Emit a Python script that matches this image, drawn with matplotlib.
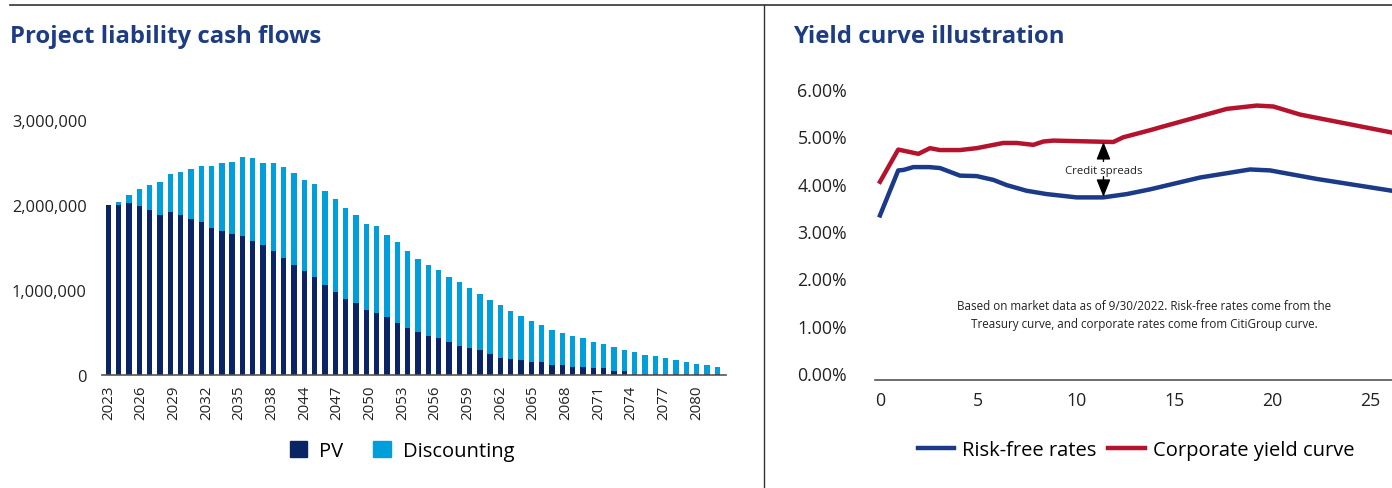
import numpy as np
import matplotlib
matplotlib.use("Agg")
import matplotlib.pyplot as plt
from matplotlib.lines import Line2D
from matplotlib.patches import Patch
from matplotlib.ticker import FuncFormatter

plt.rcParams["font.family"] = ["Open Sans", "DejaVu Sans"]

# ---------- data: left panel (values in millions) ----------
years = list(range(2023, 2083))
pv_m = [2.00, 2.00, 2.02, 1.99, 1.94, 1.88, 1.92, 1.88, 1.84, 1.80,
        1.73, 1.70, 1.66, 1.64, 1.58, 1.53, 1.46, 1.38, 1.29, 1.22,
        1.15, 1.06, 0.98, 0.90, 0.85, 0.76, 0.73, 0.68, 0.61, 0.55,
        0.51, 0.46, 0.43, 0.39, 0.34, 0.32, 0.29, 0.25, 0.20, 0.19,
        0.18, 0.15, 0.15, 0.12, 0.12, 0.10, 0.09, 0.08, 0.08, 0.05,
        0.05, 0.01, 0.01, 0.01, 0.01, 0.01, 0.01, 0.01, 0.01, 0.01]
disc_m = [0.00, 0.04, 0.10, 0.20, 0.30, 0.39, 0.45, 0.51, 0.58, 0.66,
          0.73, 0.80, 0.85, 0.92, 0.97, 0.97, 1.04, 1.07, 1.09, 1.07,
          1.10, 1.10, 1.09, 1.07, 1.03, 1.02, 1.02, 0.97, 0.95, 0.91,
          0.86, 0.83, 0.81, 0.76, 0.75, 0.70, 0.66, 0.63, 0.62, 0.56,
          0.51, 0.48, 0.44, 0.41, 0.37, 0.36, 0.34, 0.31, 0.28, 0.28,
          0.24, 0.26, 0.23, 0.21, 0.19, 0.17, 0.14, 0.12, 0.11, 0.09]
year_labels = ["2023", "2026", "2029", "2032", "2035", "2038", "2044", "2047",
               "2050", "2053", "2056", "2059", "2062", "2065", "2068", "2071",
               "2074", "2077", "2080"]

# ---------- data: right panel (maturity in years, rate in %) ----------
rf_x = [0, 0.93, 1.2, 1.7, 2.5, 3.06, 4.08, 4.93, 5.78, 6.46, 7.48, 8.5,
        10.03, 11.39, 12.59, 13.78, 14.29, 16.33, 18.88, 19.9, 22.28, 26.12]
rf_y = [3.33, 4.28, 4.29, 4.35, 4.35, 4.33, 4.17, 4.16, 4.08, 3.97, 3.85, 3.78,
        3.71, 3.71, 3.78, 3.88, 3.93, 4.13, 4.30, 4.28, 4.10, 3.85]
corp_x = [0, 0.93, 1.96, 2.55, 3.06, 4.08, 4.93, 6.29, 6.97, 7.82, 8.33, 8.84,
          10.88, 11.9, 12.41, 13.78, 14.29, 17.69, 19.22, 20.07, 21.43, 26.12]
corp_y = [4.04, 4.72, 4.63, 4.75, 4.71, 4.71, 4.75, 4.86, 4.86, 4.82, 4.89, 4.91,
          4.89, 4.88, 4.98, 5.13, 5.19, 5.58, 5.65, 5.63, 5.46, 5.08]

NAVY = "#0b2466"
CYAN = "#009fdc"
TITLE = "#1d3c82"
BLUE = "#1b3a87"
RED = "#b5122e"

W, H = 1392, 489
fig = plt.figure(figsize=(W / 100, H / 100), dpi=100)


def frac(x0, y0, x1, y1):
    # pixel box (top-left origin) -> figure fraction rect
    return [x0 / W, 1 - y1 / H, (x1 - x0) / W, (y1 - y0) / H]


# frame lines
fig.add_artist(Line2D([10 / W, 1], [1 - 6 / H] * 2, color="#333333", lw=1.2))
fig.add_artist(Line2D([764 / W] * 2, [0, 1 - 6 / H], color="#333333", lw=1.0))

fig.text(10 / W, 1 - 37 / H, "Project liability cash flows", fontsize=17.2,
         fontweight="bold", color=TITLE, va="center")
fig.text(793 / W, 1 - 37 / H, "Yield curve illustration", fontsize=17.2,
         fontweight="bold", color=TITLE, va="center")

# ---------- left: stacked bars ----------
ax1 = fig.add_axes(frac(102, 121, 726, 376))
x = np.arange(len(years))
pv = np.array(pv_m) * 1e6
disc = np.array(disc_m) * 1e6
ax1.bar(x, pv, width=0.52, color=NAVY, label="PV")
ax1.bar(x, disc, width=0.52, bottom=pv, color=CYAN, label="Discounting")
ax1.set_xlim(-0.61, 59.85)
ax1.set_ylim(0, 3e6)
ax1.set_yticks([0, 1e6, 2e6, 3e6])
ax1.yaxis.set_major_formatter(FuncFormatter(lambda v, p: f"{v:,.0f}"))
ax1.set_xticks(np.linspace(0, 57, len(year_labels)))
ax1.set_xticklabels(year_labels, rotation=90)
ax1.tick_params(axis="y", length=0, pad=11, labelsize=11.8, colors="#222222")
ax1.tick_params(axis="x", length=0, pad=7, labelsize=10.8, colors="#222222")
for s in ["top", "right", "left"]:
    ax1.spines[s].set_visible(False)
ax1.spines["bottom"].set_color("#555555")
ax1.spines["bottom"].set_linewidth(1.2)

fig.legend(handles=[Patch(color=NAVY, label="PV"), Patch(color=CYAN, label="Discounting")],
           loc="center", bbox_to_anchor=(402 / W, 1 - 452 / H), ncol=2, frameon=False,
           fontsize=14.5, handlelength=0.85, handleheight=0.85, handletextpad=0.6,
           columnspacing=1.5)

# ---------- right: yield curves ----------
ax2 = fig.add_axes(frac(875, 90, 1392, 381))
ax2.plot(rf_x, rf_y, color=BLUE, lw=3.2, label="Risk-free rates", solid_joinstyle="round")
ax2.plot(corp_x, corp_y, color=RED, lw=3.2, label="Corporate yield curve", solid_joinstyle="round")
ax2.set_xlim(-0.255, 26.12)
ax2.set_ylim(-0.148, 6.0)
ax2.set_yticks(np.arange(0, 7))
ax2.yaxis.set_major_formatter(FuncFormatter(lambda v, p: f"{v:.2f}%"))
ax2.set_xticks([0, 5, 10, 15, 20, 25])
ax2.tick_params(axis="y", length=0, pad=20, labelsize=12.8, colors="#222222")
ax2.tick_params(axis="x", length=0, pad=8, labelsize=12.8, colors="#222222")
for s in ["top", "right", "left"]:
    ax2.spines[s].set_visible(False)
ax2.spines["bottom"].set_color("#555555")
ax2.spines["bottom"].set_linewidth(1.2)

arrow = dict(arrowstyle="-|>,head_length=0.9,head_width=0.36", color="black",
             lw=1.0, mutation_scale=12, shrinkA=0, shrinkB=0)
ax2.annotate("", xy=(11.4, 4.88), xytext=(11.4, 4.47), arrowprops=arrow)
ax2.annotate("", xy=(11.4, 3.72), xytext=(11.4, 4.15), arrowprops=arrow)
ax2.text(11.4, 4.28, "Credit spreads", ha="center", va="center", fontsize=8.2,
         color="#222222")
ax2.text(13.47, 1.24,
         "Based on market data as of 9/30/2022. Risk-free rates come from the\n"
         "Treasury curve, and corporate rates come from CitiGroup curve.",
         ha="center", va="center", fontsize=8.4, color="#222222", linespacing=1.5)

fig.legend(handles=ax2.get_lines(), loc="center", bbox_to_anchor=(1136 / W, 1 - 451 / H),
           ncol=2, frameon=False, fontsize=14.5, handlelength=1.8, handletextpad=0.4,
           columnspacing=0.6)

fig.savefig("out.png", dpi=100)
